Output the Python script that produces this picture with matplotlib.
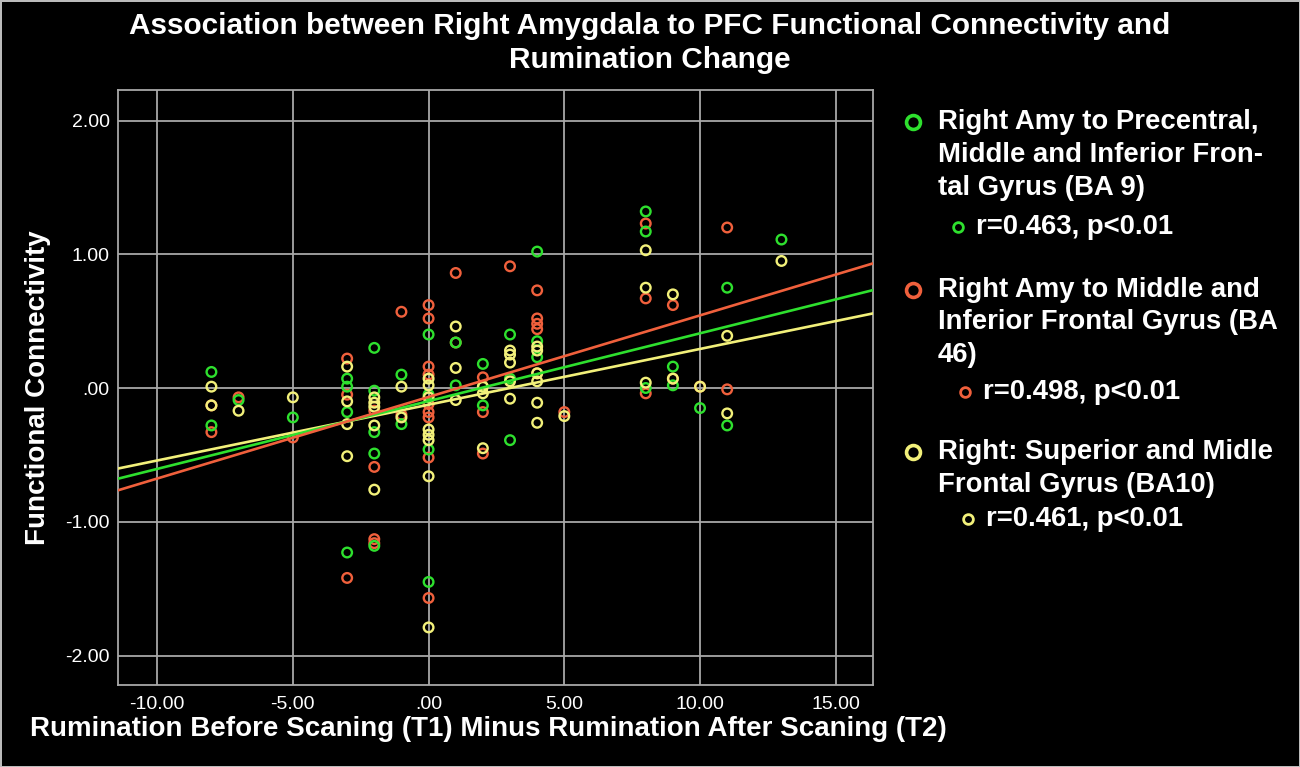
import numpy as np
import matplotlib
matplotlib.use('Agg')
import matplotlib.pyplot as plt
from matplotlib.lines import Line2D

# --- Datos ---
# Verde: Right Amy to Precentral, Middle and Inferior Frontal Gyrus (BA 9)
x_ba9 = [-8, -8, -7, -5, -3, -3, -3, -3, -2, -2, -2, -2, -2, -1, -1,
         0, 0, 0, 0, 1, 1, 2, 2, 2, 3, 3, 3, 4, 4, 4, 8, 8, 8, 9, 9, 10, 11, 11, 13]
y_ba9 = [0.12, -0.28, -0.09, -0.22, 0.07, 0.01, -0.18, -1.23, 0.30, -0.02, -0.33, -0.49, -1.18, 0.10, -0.27,
         0.40, -0.05, -0.46, -1.45, 0.34, 0.02, 0.18, 0.01, -0.13, 0.40, 0.07, -0.39, 1.02, 0.35, 0.23,
         1.32, 1.17, 0.00, 0.16, 0.02, -0.15, 0.75, -0.28, 1.11]

# Naranja: Right Amy to Middle and Inferior Frontal Gyrus (BA 46)
x_ba46 = [-8, -8, -7, -5, -3, -3, -3, -2, -2, -2, -2, -1, -1,
          0, 0, 0, 0, 0, 0, 0, 0, 0, 1, 1, 2, 2, 2, 3, 4, 4, 4, 4, 4, 5,
          8, 8, 8, 9, 9, 10, 11, 11]
y_ba46 = [-0.13, -0.33, -0.07, -0.37, 0.22, -0.05, -1.42, -0.17, -0.59, -1.13, -1.16, 0.57, -0.20,
          0.62, 0.52, 0.16, 0.10, -0.12, -0.18, -0.22, -0.52, -1.57, 0.86, 0.34, 0.08, -0.18, -0.49,
          0.91, 0.73, 0.52, 0.48, 0.44, 0.11, -0.18, 1.23, 0.67, -0.04, 0.62, 0.07, 0.01, 1.20, -0.01]

# Amarillo: Right: Superior and Midle Frontal Gyrus (BA10)
x_ba10 = [-8, -8, -7, -5, -3, -3, -3, -3, -2, -2, -2, -2, -2, -1, -1,
          0, 0, 0, 0, 0, 0, 0, 0, 1, 1, 1, 2, 2, 2, 3, 3, 3, 3, 3,
          4, 4, 4, 4, 4, 4, 5, 8, 8, 8, 9, 9, 10, 11, 11, 13]
y_ba10 = [0.01, -0.13, -0.17, -0.07, 0.16, -0.10, -0.27, -0.51, -0.07, -0.11, -0.14, -0.28, -0.76, 0.01, -0.22,
          0.07, 0.02, -0.07, -0.31, -0.35, -0.39, -0.66, -1.79, 0.46, 0.15, -0.09, 0.01, -0.04, -0.45,
          0.28, 0.25, 0.19, 0.05, -0.08, 0.31, 0.28, 0.11, 0.05, -0.11, -0.26, -0.21,
          1.03, 0.75, 0.04, 0.70, 0.07, 0.01, 0.39, -0.19, 0.95]

# Rectas de ajuste (intercepto, pendiente)
fit_ba9 = (-0.098, 0.0507)
fit_ba46 = (-0.067, 0.0610)
fit_ba10 = (-0.125, 0.0417)

labels_ba9 = ['Right Amy to Precentral,', 'Middle and Inferior Fron-', 'tal Gyrus (BA 9)']
labels_ba46 = ['Right Amy to Middle and', 'Inferior Frontal Gyrus (BA', '46)']
labels_ba10 = ['Right: Superior and Midle', 'Frontal Gyrus (BA10)']
stats = ['r=0.463, p<0.01', 'r=0.498, p<0.01', 'r=0.461, p<0.01']

x_ticks = [-10, -5, 0, 5, 10, 15]
y_ticks = [-2, -1, 0, 1, 2]

c_green = '#2ee02e'
c_orange = '#f0603c'
c_yellow = '#f2f07a'

def fmt(v):
    s = f'{v:.2f}'
    if s.startswith('0'):
        s = s[1:]
    return s

# --- Grafico ---
fig = plt.figure(figsize=(13, 7.67), dpi=100, facecolor='black')
fig.patch.set_edgecolor('#bbbbbb')
fig.patch.set_linewidth(2)
ax = fig.add_axes([0.0908, 0.107, 0.5807, 0.776])
ax.set_facecolor('black')

xlim = (-11.44, 16.37)
ax.set_xlim(*xlim)
ax.set_ylim(-2.22, 2.23)

ax.set_xticks(x_ticks)
ax.set_yticks(y_ticks)
ax.set_xticklabels([fmt(v) for v in x_ticks])
ax.set_yticklabels([fmt(v) for v in y_ticks])
ax.tick_params(colors='white', labelsize=14, length=0)
ax.tick_params(axis='x', pad=8)
ax.tick_params(axis='y', pad=6)
for lab in ax.get_xticklabels() + ax.get_yticklabels():
    lab.set_family('Liberation Sans')
ax.grid(True, color='#a8a8a8', linewidth=1.3)
ax.set_axisbelow(True)
for sp in ax.spines.values():
    sp.set_color('#a8a8a8')
    sp.set_linewidth(1.3)

mk = dict(marker='o', s=48, facecolors='none', linewidths=1.7, zorder=3)
ax.scatter(x_ba46, y_ba46, edgecolors=c_orange, **mk)
ax.scatter(x_ba9, y_ba9, edgecolors=c_green, **mk)
ax.scatter(x_ba10, y_ba10, edgecolors=c_yellow, **mk)

xx = np.array(xlim)
for (a, b), c in [(fit_ba10, c_yellow), (fit_ba9, c_green), (fit_ba46, c_orange)]:
    ax.plot(xx, a + b * xx, color=c, linewidth=1.9, zorder=4)

ax.set_xlabel('Rumination Before Scaning (T1) Minus Rumination After Scaning (T2)',
              color='white', fontsize=20, fontweight='bold', family='Liberation Sans', labelpad=2)
ax.xaxis.label.set_x(0.49)
ax.set_ylabel('Functional Connectivity', color='white', fontsize=20,
              fontweight='bold', family='Liberation Sans', labelpad=10)

fig.text(0.5, 0.984, 'Association between Right Amygdala to PFC Functional Connectivity and\nRumination Change',
         ha='center', va='top', color='white', fontsize=21.4, fontweight='bold',
         family='Liberation Sans', linespacing=1.25)

# --- Leyenda manual (coordenadas en pixeles) ---
H = 767
def px(x, y):
    return x / 1300, 1 - y / H

groups = [
    (labels_ba9, c_green, [122, 155, 188], 227, 958),
    (labels_ba46, c_orange, [290, 322, 355], 392, 965),
    (labels_ba10, c_yellow, [452, 485], 519, 968),
]
for (lines, col, ys, ysub, xsub), st in zip(groups, stats):
    fig.add_artist(Line2D([px(913, 0)[0]], [px(0, ys[0])[1]], marker='o', markersize=10,
                          markerfacecolor='none', markeredgecolor=col, markeredgewidth=2.6))
    for t, y in zip(lines, ys):
        xf, yf = px(938, y)
        fig.text(xf, yf, t, ha='left', va='center', color='white', fontsize=19.8,
                 fontweight='bold', family='Liberation Sans')
    fig.add_artist(Line2D([px(xsub, 0)[0]], [px(0, ysub)[1]], marker='o', markersize=7,
                          markerfacecolor='none', markeredgecolor=col, markeredgewidth=2))
    xf, yf = px(xsub + 18, ysub)
    fig.text(xf, yf, st, ha='left', va='center', color='white', fontsize=19.8,
             fontweight='bold', family='Liberation Sans')

fig.savefig('out.png', dpi=100, facecolor=fig.get_facecolor(), edgecolor=fig.get_edgecolor())
